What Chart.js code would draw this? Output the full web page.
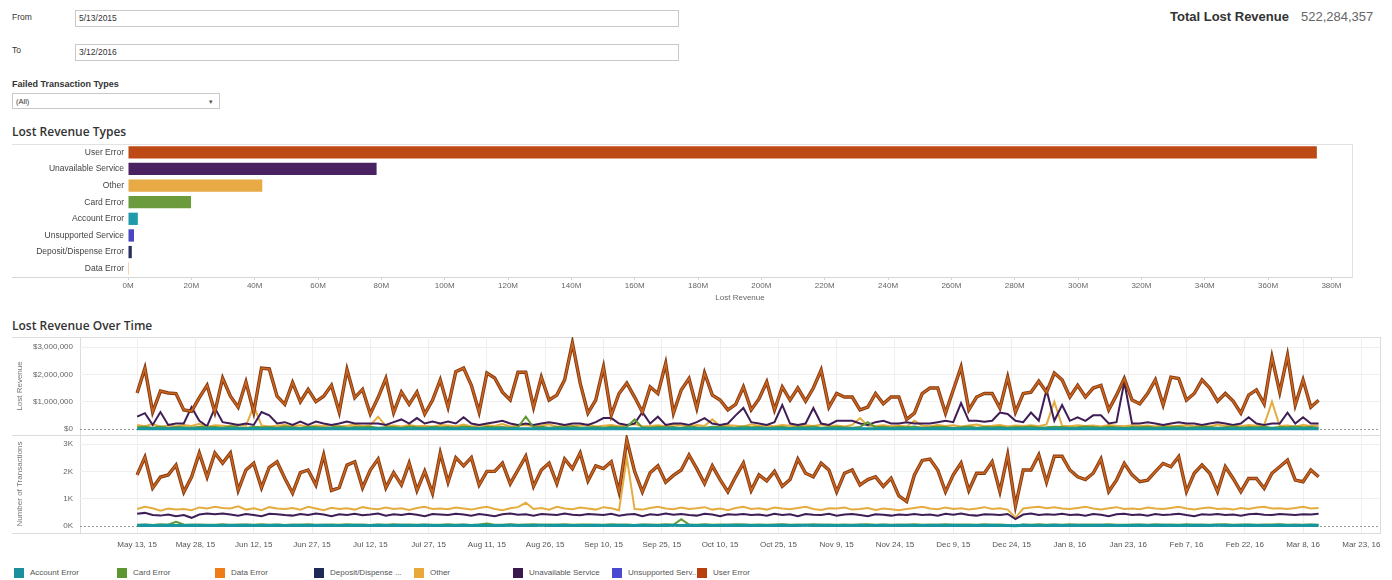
<!DOCTYPE html>
<html>
<head>
<meta charset="utf-8">
<script src="https://cdn.jsdelivr.net/npm/chart.js@4.4.1/dist/chart.umd.min.js"></script>
<style>
  body { margin: 0; background: #fff; font-family: "Liberation Sans", Arial, sans-serif; }
  #page { position: relative; width: 1392px; height: 580px; overflow: hidden; }
  .abs { position: absolute; white-space: nowrap; }
  .lbl { font-size: 8.5px; color: #333; }
  .box { border: 1px solid #c9c9c9; background: #fff; font-size: 8.5px; color: #333; padding-left: 3px; box-sizing: border-box; line-height: 15px; }
  .title { font-family: "Open Sans", sans-serif; font-size: 12px; font-weight: 600; color: #333; }
  .frame { position: absolute; background: #dcdcdc; }
  canvas { position: absolute; left: 0; }
  .leg { position: absolute; top: 568px; font-size: 8px; color: #555; line-height: 10px; white-space: nowrap; }
  .leg i { display: inline-block; width: 10px; height: 10px; vertical-align: top; margin-right: 6px; }
</style>
</head>
<body>
<div id="page">
  <div class="abs lbl" style="left:12px;top:12px">From</div>
  <div class="abs box" style="left:75px;top:10px;width:604px;height:17px">5/13/2015</div>
  <div class="abs lbl" style="left:12px;top:45px">To</div>
  <div class="abs box" style="left:75px;top:44px;width:604px;height:17px">3/12/2016</div>
  <div class="abs lbl" style="left:12px;top:79px;font-weight:bold;font-size:9px">Failed Transaction Types</div>
  <div class="abs box" style="left:12px;top:93px;width:208px;height:16px;font-size:7.5px">(All)<span style="position:absolute;left:196px;top:0;font-size:7px;color:#555">&#9662;</span></div>
  <div class="abs" style="left:1170px;top:9px;font-size:13px;font-weight:bold;color:#333">Total Lost Revenue</div>
  <div class="abs" style="left:1301px;top:9px;font-size:13px;color:#666">522,284,357</div>

  <div class="abs title" style="left:12px;top:123px">Lost Revenue Types</div>
  <div class="frame" style="left:12px;top:144px;width:1340px;height:1px;background:#e2e2e2"></div>
  <div class="frame" style="left:12px;top:277px;width:1340px;height:1px;background:#d6d6d6"></div>
  <div class="frame" style="left:1352px;top:144px;width:1px;height:134px;background:#e2e2e2"></div>
  <canvas id="bars" width="1392" height="165" style="top:140px"></canvas>

  <div class="abs title" style="left:12px;top:317px">Lost Revenue Over Time</div>
  <div class="frame" style="left:12px;top:337px;width:1368px;height:1px"></div>
  <div class="frame" style="left:12px;top:435px;width:1368px;height:1px"></div>
  <div class="frame" style="left:12px;top:533px;width:1368px;height:1px"></div>
  <div class="frame" style="left:80px;top:337px;width:1px;height:197px"></div>
  <div class="frame" style="left:1380px;top:337px;width:1px;height:197px"></div>
  <canvas id="revenue" width="1392" height="106" style="top:330px"></canvas>
  <canvas id="transactions" width="1392" height="127" style="top:430px"></canvas>

  <div class="leg" style="left:14px"><i style="background:#1c8f9e"></i>Account Error</div>
  <div class="leg" style="left:117px"><i style="background:#5e9632"></i>Card Error</div>
  <div class="leg" style="left:215px"><i style="background:#f07c18"></i>Data Error</div>
  <div class="leg" style="left:314px"><i style="background:#1e2a58"></i>Deposit/Dispense ...</div>
  <div class="leg" style="left:414px"><i style="background:#e9a83a"></i>Other</div>
  <div class="leg" style="left:513px"><i style="background:#3a1a4c"></i>Unavailable Service</div>
  <div class="leg" style="left:612px"><i style="background:#4a4ad0"></i>Unsupported Serv...</div>
  <div class="leg" style="left:697px"><i style="background:#b83f0e"></i>User Error</div>
</div>
<script>
// Lost revenue by type (millions)
const revenueTypes = ['User Error', 'Unavailable Service', 'Other', 'Card Error', 'Account Error', 'Unsupported Service', 'Deposit/Dispense Error', 'Data Error'];
const revenueByType = [375.4, 78.5, 42.4, 19.9, 3.1, 1.9, 1.2, 0.05];
const typeColors = ['#bd4a14', '#4a2262', '#e8aa45', '#6b9b3d', '#1f9aab', '#4b45c2', '#2b2f5c', '#f07e1b'];
const barTicks = [0, 20, 40, 60, 80, 100, 120, 140, 160, 180, 200, 220, 240, 260, 280, 300, 320, 340, 360, 380];

// time axis: days after May 13, 2015
const tickDays = [0, 15, 30, 45, 60, 75, 90, 105, 120, 135, 150, 165, 180, 195, 210, 225, 240, 255, 270, 285, 300, 315];
const tickLabels = ['May 13, 15', 'May 28, 15', 'Jun 12, 15', 'Jun 27, 15', 'Jul 12, 15', 'Jul 27, 15', 'Aug 11, 15', 'Aug 26, 15',
  'Sep 10, 15', 'Sep 25, 15', 'Oct 10, 15', 'Oct 25, 15', 'Nov 9, 15', 'Nov 24, 15', 'Dec 9, 15', 'Dec 24, 15',
  'Jan 8, 16', 'Jan 23, 16', 'Feb 7, 16', 'Feb 22, 16', 'Mar 8, 16', 'Mar 23, 16'];
const days = Array.from({ length: 153 }, (_, i) => i * 2);

// lost revenue ($ thousands)
const revUser = [
  1320,2230,620,1390,1320,1300,700,650,1150,1600,
  620,1860,1200,800,1720,620,2230,2200,1200,900,
  1700,1000,1450,1000,1200,1600,620,2180,1150,1450,
  550,1150,1850,600,1350,900,1350,550,1050,1800,
  800,2100,2230,1600,620,2050,1870,1350,1060,2080,
  2080,800,1900,1060,1240,1800,3150,1680,580,1060,
  2270,510,1300,1680,1170,620,1540,1300,2400,580,
  1430,1850,770,2050,1240,1060,700,900,1540,700,
  1100,1720,700,1540,1060,1500,1020,1500,2160,800,
  1300,1170,1170,700,800,1300,920,1170,1170,350,
  580,1300,1500,1500,580,1430,2270,700,1170,1300,
  1300,770,1900,620,1300,1350,1750,1350,2050,1800,
  1170,1600,1170,1500,1600,700,1240,1850,1060,920,
  1300,1800,880,1900,1850,1060,1300,1800,1500,1020,
  1300,1020,580,1240,1430,920,2630,1350,2700,880,
  1800,800,1050];
const revUnavailable = [
  450,580,150,620,150,200,200,800,300,100,
  770,250,200,150,200,150,620,500,200,250,
  150,270,150,270,200,150,200,270,200,200,
  200,200,150,250,350,200,400,200,270,200,
  270,200,430,200,150,200,250,300,200,150,
  200,150,200,250,200,150,200,200,150,250,
  400,400,200,150,200,620,200,450,150,200,
  200,150,250,400,200,150,200,500,770,250,
  200,150,250,880,200,150,200,770,200,150,
  300,300,300,200,150,250,300,200,200,250,
  200,200,200,250,300,250,950,300,300,270,
  300,600,550,300,250,600,300,1430,300,880,
  300,430,300,500,500,200,250,1720,200,200,
  250,200,150,200,250,200,200,150,200,250,
  200,150,200,430,200,150,200,200,600,200,
  430,200,200];
const revOther = [
  150,100,180,80,130,90,150,110,190,80,
  140,120,100,160,110,850,130,90,120,150,
  100,140,80,130,110,150,90,120,160,100,
  140,450,110,130,90,150,100,120,80,150,
  130,100,160,90,120,140,110,180,90,130,
  150,100,120,170,80,140,110,130,160,90,
  120,150,100,130,180,90,110,140,100,160,
  130,90,150,110,350,100,140,120,90,170,
  110,130,100,150,120,90,140,110,160,100,
  130,90,150,400,120,110,140,100,130,90,
  300,120,100,150,110,140,90,130,160,100,
  120,150,90,130,110,140,100,170,1000,120,
  100,140,110,130,90,150,120,100,140,110,
  130,90,150,110,120,140,100,130,90,160,
  110,130,100,150,120,140,1000,110,130,90,
  150,110,130];
const revCard = [
  60,80,50,90,40,70,60,50,80,60,
  70,50,90,60,40,80,60,70,50,90,
  60,40,80,70,50,60,90,50,70,60,
  80,50,60,70,40,90,60,50,80,60,
  70,50,90,60,40,80,60,70,50,60,
  450,60,80,50,70,60,90,50,60,70,
  50,80,60,70,350,60,50,80,60,70,
  40,90,60,50,80,70,60,50,90,60,
  70,50,60,80,40,70,60,90,50,60,
  80,60,50,70,250,60,80,50,70,60,
  90,50,60,80,70,40,60,90,50,70,
  60,80,50,70,60,90,50,60,80,70,
  50,60,90,70,50,80,60,40,70,60,
  80,50,70,60,90,50,60,80,70,50,
  60,90,50,70,60,80,50,70,60,90,
  60,70,50];
const revAccount = [
  10,8,12,9,11,7,10,13,8,9,
  11,10,7,12,9,10,8,11,13,9,
  10,7,12,8,11,9,10,12,8,10,
  9,11,8,13,10,7,12,9,11,8,
  10,12,9,8,11,10,7,13,9,10,
  12,8,11,9,10,8,12,10,7,11,
  9,13,10,8,11,9,12,7,10,11,
  8,10,12,9,11,10,8,13,9,7,
  11,10,9,12,8,10,11,7,13,9,
  10,8,11,12,9,10,7,11,8,12,
  10,9,13,8,11,10,12,7,9,11,
  8,10,12,9,11,13,8,10,9,12,
  7,11,10,8,12,9,11,10,13,8,
  10,12,9,7,11,10,8,12,9,11,
  10,13,8,9,12,10,11,7,10,9,
  12,8,10];

// number of transactions
const txUser = [
  1870,2520,1390,1790,1870,2230,1240,1790,2670,1790,
  2670,2300,2670,1300,2050,2300,1400,2150,2350,1750,
  1200,1950,2050,1500,2600,1300,1400,2230,2350,1400,
  2050,2450,1400,1950,1500,2300,1300,2000,1200,2670,
  1600,2500,2200,2500,1500,2000,2000,2300,1550,2050,
  2550,1450,2050,2300,1550,2450,2100,2670,1650,2200,
  2100,2350,1250,3150,2000,1250,1950,2200,1600,1850,
  2050,2600,2100,1550,2200,1700,1250,1800,2300,1300,
  1870,1650,2000,1450,1700,2450,1930,1800,2300,2050,
  1250,1930,2050,1500,1700,1800,1450,1750,1100,900,
  1870,2400,2450,2050,1250,1870,2300,1300,1930,1930,
  2350,1260,2600,730,2050,2050,2600,1600,2550,2550,
  2050,1800,1700,1930,2450,1260,1680,2290,1870,1620,
  1680,1990,2290,2170,2540,1260,1930,2230,1930,1260,
  2170,1740,1260,1740,1740,1380,1930,2170,2410,1680,
  1620,2050,1800];
const txOther = [
  620,700,650,560,640,600,620,580,680,640,
  700,660,640,720,600,650,580,690,640,620,
  660,600,700,640,580,670,620,650,600,690,
  640,610,680,620,650,590,660,700,620,640,
  610,680,640,600,660,700,620,580,650,690,
  850,620,660,600,700,640,610,680,640,600,
  690,650,580,2500,620,600,660,700,640,610,
  680,620,650,690,600,640,580,660,700,620,
  650,600,680,640,610,660,700,620,590,650,
  640,680,600,620,660,590,640,610,580,620,
  660,700,640,610,680,620,650,600,640,690,
  620,650,600,300,640,680,700,650,690,640,
  620,660,700,640,600,650,690,620,640,610,
  680,640,620,660,700,640,600,650,680,620,
  640,600,660,620,680,700,640,650,620,660,
  700,640,660];
const txUnavailable = [
  450,480,400,380,420,360,400,300,420,460,
  430,460,420,380,440,400,360,450,430,400,
  380,440,400,460,420,360,430,400,450,390,
  420,460,380,430,400,450,410,360,440,420,
  400,450,420,380,440,400,360,430,460,410,
  430,380,440,420,400,460,410,390,440,420,
  400,450,380,420,440,360,430,400,460,410,
  440,400,380,450,420,360,430,410,440,400,
  420,380,450,400,430,360,440,410,400,450,
  380,420,440,400,360,430,410,380,420,400,
  440,400,420,380,450,410,460,400,380,430,
  420,400,440,250,420,460,400,430,410,450,
  400,420,380,440,410,360,430,450,400,420,
  380,440,400,420,450,400,360,430,410,440,
  400,420,380,430,450,410,400,440,420,400,
  430,420,450];
const txCard = [
  45,52,38,60,48,150,55,42,58,50,
  47,62,40,55,51,44,66,49,53,41,
  58,46,63,50,43,57,48,61,45,52,
  40,56,49,64,47,53,42,59,50,45,
  62,48,55,41,57,90,50,44,60,47,
  53,65,42,56,49,61,45,52,58,43,
  50,64,47,55,41,59,52,46,63,48,
  250,54,43,60,49,57,45,62,51,44,
  58,47,53,65,42,56,50,61,46,52,
  44,59,48,55,63,47,51,42,57,50,
  61,45,53,49,64,43,56,52,47,60,
  46,54,41,20,58,50,62,47,55,49,
  63,44,52,57,46,60,50,43,58,53,
  48,61,45,55,50,64,42,57,49,53,
  60,46,52,58,44,56,51,63,47,54,
  45,59,50];
const txAccount = [
  20,24,18,22,26,19,21,25,17,23,
  22,18,27,20,24,19,23,21,26,18,
  22,25,19,21,24,17,23,20,26,22,
  19,24,21,18,25,22,20,27,19,23,
  21,18,24,22,26,20,19,23,25,21,
  18,22,24,20,27,19,23,21,18,25,
  22,20,24,19,23,26,21,18,22,24,
  20,25,19,23,21,17,24,22,26,20,
  19,23,21,25,18,22,24,20,27,21,
  23,19,22,25,20,18,24,21,23,26,
  20,22,19,24,21,25,18,23,20,22,
  26,19,21,12,24,20,23,18,25,22,
  21,24,19,22,26,20,23,18,21,25,
  22,19,24,20,23,21,26,18,22,24,
  20,23,19,25,21,22,18,24,20,23,
  21,25,19];

const lineColors = { user: '#c9661f', userEdge: '#843810', unavailable: '#3f1d57', other: '#e5ac3f', card: '#5f9a35', account: '#17969f' };

// dotted zero line like the reference
const zeroLine = {
  id: 'zeroLine',
  beforeDatasetsDraw(chart) {
    const ctx = chart.ctx;
    const y = Math.round(chart.scales.y.getPixelForValue(0)) + 0.5;
    ctx.save();
    ctx.strokeStyle = '#999';
    ctx.lineWidth = 1;
    ctx.setLineDash([2, 2]);
    ctx.beginPath();
    ctx.moveTo(chart.chartArea.left, y);
    ctx.lineTo(chart.chartArea.right, y);
    ctx.stroke();
    ctx.restore();
  }
};

// keep the plot box exactly where the layout padding puts it
function noLabelPadding(s) {
  s.paddingTop = 0; s.paddingBottom = 0; s.paddingLeft = 0; s.paddingRight = 0;
}

function lineSet(label, data, color, width) {
  return { label: label, data: data, borderColor: color, borderWidth: width, pointRadius: 0, tension: 0, fill: false };
}

function timeXAxis(showLabels) {
  return {
    type: 'linear', min: -14.7, max: 319.8,
    afterBuildTicks: function (s) { s.ticks = tickDays.map(v => ({ value: v })); },
    ticks: {
      display: showLabels, autoSkip: false, maxRotation: 0, padding: 7,
      font: { size: 8 }, color: '#555',
      callback: v => tickLabels[tickDays.indexOf(v)]
    },
    grid: { color: '#efefef', drawTicks: false },
    border: { display: false },
    afterFit: function (s) { s.height = showLabels ? 24 : 0; noLabelPadding(s); }
  };
}

function yAxis(min, max, ticks, fmt, title) {
  return {
    min: min, max: max,
    afterBuildTicks: function (s) { s.ticks = ticks.map(v => ({ value: v })); },
    ticks: { font: { size: 8 }, color: '#666', padding: 7, callback: fmt },
    grid: { color: c => (c.tick && c.tick.value === 0) ? 'rgba(0,0,0,0)' : '#efefef', drawTicks: false },
    border: { display: false },
    title: { display: true, text: title, font: { size: 8 }, color: '#777', padding: { top: 15, bottom: 0 } },
    afterFit: function (s) { s.width = 80; noLabelPadding(s); }
  };
}

new Chart(document.getElementById('bars'), {
  type: 'bar',
  data: {
    labels: revenueTypes,
    datasets: [{ data: revenueByType, backgroundColor: typeColors, categoryPercentage: 1, barPercentage: 0.74 }]
  },
  options: {
    indexAxis: 'y', responsive: false, animation: false,
    layout: { autoPadding: false, padding: { left: 0, right: 40, top: 4, bottom: 0 } },
    scales: {
      x: {
        min: 0, max: 386.5,
        afterBuildTicks: function (s) { s.ticks = barTicks.map(v => ({ value: v })); },
        ticks: { callback: v => v + 'M', font: { size: 8 }, color: '#666', padding: 1, maxRotation: 0, autoSkip: false },
        grid: { drawOnChartArea: false, drawTicks: true, tickLength: 3, color: '#d6d6d6' },
        border: { display: false },
        title: { display: true, text: 'Lost Revenue', font: { size: 8 }, color: '#666', padding: { top: 0, bottom: 2 } },
        afterFit: function (s) { s.height = 28; noLabelPadding(s); }
      },
      y: {
        ticks: { font: { size: 8.5 }, color: '#444', padding: 4 },
        grid: { display: false, drawTicks: false },
        border: { display: false },
        afterFit: function (s) { s.width = 128; noLabelPadding(s); }
      }
    },
    plugins: { legend: { display: false }, tooltip: { enabled: false } }
  }
});

new Chart(document.getElementById('revenue'), {
  type: 'line',
  data: {
    labels: days,
    datasets: [
      lineSet('User Error', revUser, lineColors.user, 1.6),
      lineSet('User Error edge', revUser, lineColors.userEdge, 3.4),
      lineSet('Account Error', revAccount, lineColors.account, 3),
      lineSet('Card Error', revCard, lineColors.card, 2),
      lineSet('Unavailable Service', revUnavailable, lineColors.unavailable, 2),
      lineSet('Other', revOther, lineColors.other, 2)
    ]
  },
  options: {
    responsive: false, animation: false,
    layout: { autoPadding: false, padding: { left: 0, right: 12, top: 7, bottom: 1 } },
    scales: {
      x: timeXAxis(false),
      y: yAxis(-220, 3370, [0, 1000, 2000, 3000], v => '$' + (v * 1000).toLocaleString('en-US'), 'Lost Revenue')
    },
    plugins: { legend: { display: false }, tooltip: { enabled: false } }
  },
  plugins: [zeroLine]
});

new Chart(document.getElementById('transactions'), {
  type: 'line',
  data: {
    labels: days,
    datasets: [
      lineSet('User Error', txUser, lineColors.user, 1.6),
      lineSet('User Error edge', txUser, lineColors.userEdge, 3.4),
      lineSet('Account Error', txAccount, lineColors.account, 3),
      lineSet('Card Error', txCard, lineColors.card, 2),
      lineSet('Unavailable Service', txUnavailable, lineColors.unavailable, 2),
      lineSet('Other', txOther, lineColors.other, 2)
    ]
  },
  options: {
    responsive: false, animation: false,
    layout: { autoPadding: false, padding: { left: 0, right: 12, top: 5, bottom: 0 } },
    scales: {
      x: timeXAxis(true),
      y: yAxis(-256, 3330, [0, 1000, 2000, 3000], v => (v / 1000) + 'K', 'Number of Transactions')
    },
    plugins: { legend: { display: false }, tooltip: { enabled: false } }
  },
  plugins: [zeroLine]
});
</script>
</body>
</html>
